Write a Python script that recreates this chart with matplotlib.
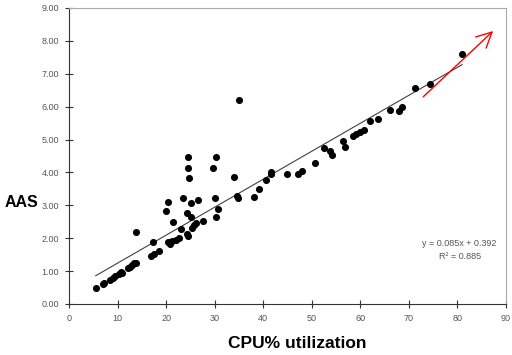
import matplotlib
matplotlib.use("Agg")
import matplotlib.pyplot as plt
import numpy as np

plt.rcParams['font.family'] = ['Liberation Sans', 'DejaVu Sans']

# CPU% utilization vs AAS
cpu = [5.5, 6.9, 7.3, 8.4, 9.0, 9.5, 10.2, 10.7, 11.0, 12.2, 12.6, 12.9, 13.4, 13.8, 13.8,
       16.8, 17.6, 18.5, 17.4,
       20.0, 20.3, 20.5, 20.8, 21.3, 21.5, 22.1, 22.7, 23.0, 23.5, 24.3, 24.5, 24.3, 24.6,
       24.6, 24.7, 25.1, 25.2, 25.4, 25.8, 26.1, 26.6, 27.6, 29.6, 30.1, 30.2, 30.2, 30.8,
       34.1, 34.6, 34.8, 35.0, 38.1, 39.2, 40.6, 41.6, 41.7, 44.9, 47.2, 48.0, 50.7, 52.6,
       53.7, 54.2, 56.4, 56.9, 58.6, 59.2, 59.9, 60.7, 62.1, 63.6, 66.2, 67.9, 68.6, 71.2,
       74.4, 81.0]
aas = [0.48, 0.61, 0.63, 0.72, 0.78, 0.85, 0.90, 0.98, 0.95, 1.08, 1.13, 1.19, 1.24, 1.26, 2.18,
       1.46, 1.51, 1.60, 1.88,
       2.82, 3.09, 1.89, 1.83, 1.91, 2.50, 1.96, 2.01, 2.27, 3.22, 2.14, 2.08, 2.76, 4.48,
       4.12, 3.83, 3.06, 2.66, 2.30, 2.40, 2.45, 3.15, 2.52, 4.14, 3.23, 4.48, 2.66, 2.89,
       3.86, 3.28, 3.21, 6.20, 3.26, 3.50, 3.77, 3.95, 4.02, 3.96, 3.95, 4.05, 4.30, 4.73,
       4.65, 4.53, 4.96, 4.78, 5.11, 5.16, 5.22, 5.29, 5.55, 5.63, 5.90, 5.88, 6.00, 6.56,
       6.69, 7.60]

# Línea de tendencia (según la etiqueta)
pendiente = 0.085
ordenada = 0.392
r2 = 0.885

# Flecha roja (inicio -> fin, en unidades de datos)
flecha_ini = (73.0, 6.30)
flecha_fin = (87.4, 8.30)

fig = plt.figure(figsize=(5.12, 3.55), dpi=100)
ax = fig.add_axes([0.1348, 0.1437, 0.853, 0.8338])

ax.scatter(cpu, aas, s=26, color='black', zorder=3, linewidths=0)

xs = np.array([min(cpu), max(cpu)])
ax.plot(xs, pendiente * xs + ordenada, color='#404040', linewidth=0.8, zorder=2)

ax.annotate('', xy=flecha_fin, xytext=flecha_ini,
            arrowprops=dict(arrowstyle='->,head_length=1.1,head_width=0.55',
                            color='red', lw=1.0, shrinkA=0, shrinkB=0))

ax.text(80.5, 1.64, f'y = {pendiente}x + {ordenada}\nR\u00b2 = {r2}',
        ha='center', va='center', fontsize=6.5, color='#555555', linespacing=1.6)

ax.set_xlim(0, 90)
ax.set_ylim(0, 9)
ax.set_xticks(range(0, 91, 10))
ax.set_yticks(range(0, 10))
ax.set_yticklabels([f'{v:.2f}' for v in range(0, 10)])
ax.tick_params(direction='inout', length=6, width=0.8, labelsize=6.5,
               labelcolor='#555555', color='#333333', pad=4)

for lado in ['left', 'bottom']:
    ax.spines[lado].set_color('#333333')
    ax.spines[lado].set_linewidth(0.8)
for lado in ['top', 'right']:
    ax.spines[lado].set_color('#aaaaaa')
    ax.spines[lado].set_linewidth(0.8)

fig.text(0.042, 0.43, 'AAS', fontsize=11.5, fontweight='bold', ha='center', va='center')
fig.text(0.58, 0.032, 'CPU% utilization', fontsize=12.5, fontweight='bold', ha='center', va='center')

plt.savefig('out.png', dpi=100)
